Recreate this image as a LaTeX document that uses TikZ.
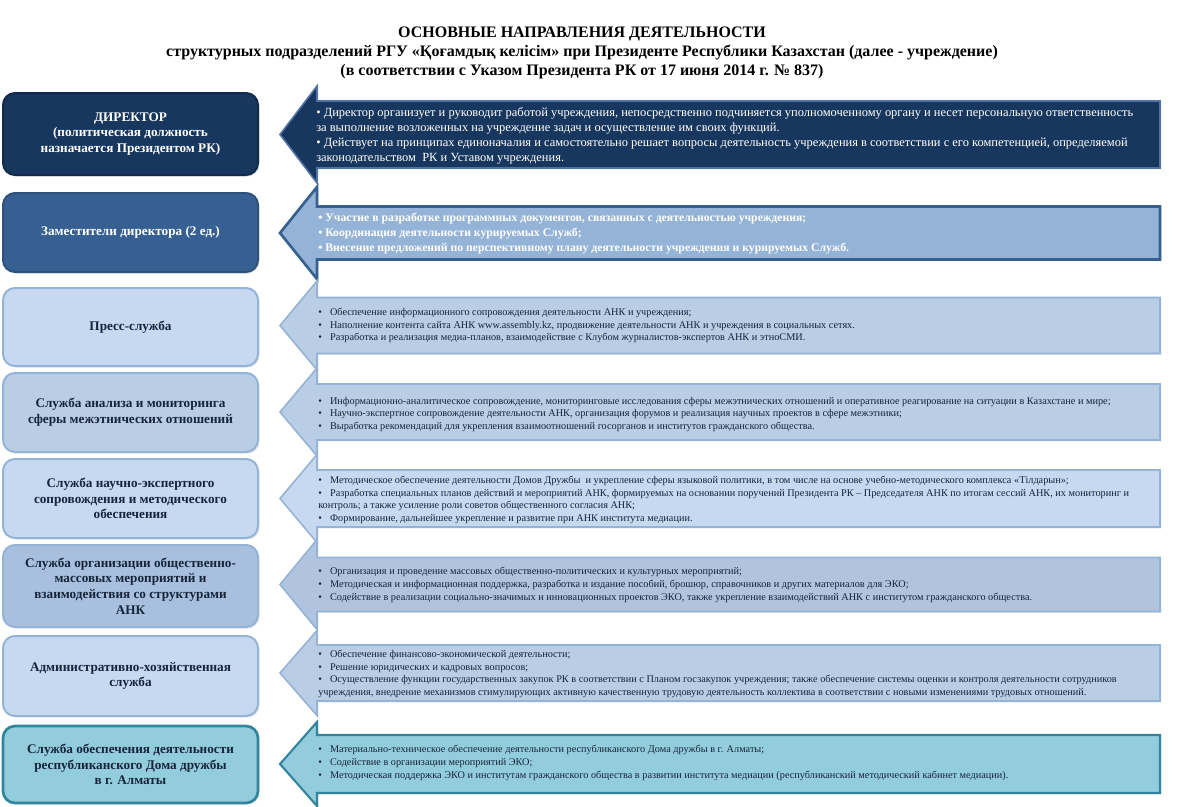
\documentclass[tikz,border=0pt]{standalone}
\usepackage{fontspec}
\setmainfont{Liberation Serif}
\usepackage{xcolor}
\usetikzlibrary{shadows}
\definecolor{navy}{HTML}{17375E}
\definecolor{navyedge}{HTML}{4F73A6}
\definecolor{midblue}{HTML}{376092}
\definecolor{midfill}{HTML}{95B3D7}
\definecolor{paleblue}{HTML}{C6D9F1}
\definecolor{lightblue}{HTML}{B9CDE5}
\definecolor{greyblue}{HTML}{A8C0DE}
\definecolor{greyarrow}{HTML}{B0C4DF}
\definecolor{paleedge}{HTML}{95B3D7}
\definecolor{tealfill}{HTML}{93CDDD}
\definecolor{tealedge}{HTML}{31859C}
\definecolor{inktext}{HTML}{15243A}
\tikzset{
  ttl/.style={align=center,font=\bfseries\fontsize{12}{14.25}\selectfont,inner sep=0pt},
  box/.style={rounded corners=9pt,minimum width=191.25pt,align=center,inner sep=0pt,
    font=\bfseries\fontsize{9.9}{11.8}\selectfont,text=inktext,line width=1.5pt,
    drop shadow={opacity=0.18,shadow xshift=1.2pt,shadow yshift=-1.2pt}},
  desc/.style={anchor=west,align=left,inner sep=0pt,text=inktext,
    font=\fontsize{7.7}{9.5}\selectfont},
  blk/.style={line width=1.2pt,line join=miter,
    drop shadow={opacity=0.15,shadow xshift=1.2pt,shadow yshift=-1.2pt}}
}
% block arrow pointing left: [style]{y centre}{half shaft}{half head}
\newcommand{\blkarrow}[4][]{\draw[blk,#1] (280,#2) -- (317,#2-#4) -- (317,#2-#3)
  -- (1160,#2-#3) -- (1160,#2+#3) -- (317,#2+#3) -- (317,#2+#4) -- cycle;}
\newcommand{\itm}{\textbullet\hspace{0.8em}}

\begin{document}
\begin{tikzpicture}[x=0.75pt,y=-0.75pt]
\useasboundingbox (0,0) rectangle (1200,807);
\node[ttl] (title) at (582,53) {ОСНОВНЫЕ НАПРАВЛЕНИЯ ДЕЯТЕЛЬНОСТИ\\
  структурных подразделений РГУ «Қоғамдық келісім» при Президенте Республики Казахстан (далее - учреждение)\\
  (в соответствии с Указом Президента РК от 17 июня 2014 г. № 837)};

% director
\blkarrow[fill=navy,draw=navyedge]{134.5}{33.5}{48.5}
\node[box,fill=navy,draw=navy!80!black,text=white,minimum height=61.5pt] (dir) at (130.5,134) {ДИРЕКТОР\\(политическая должность\\назначается Президентом РК)};
\node[desc,text=white,font=\fontsize{9.35}{11.25}\selectfont] (dirtxt) at (316,135.5) {\textbullet\ Директор организует и руководит работой учреждения, непосредственно подчиняется уполномоченному органу и несет персональную ответственность\\
за выполнение возложенных на учреждение задач и осуществление им своих функций.\\
\textbullet\ Действует на принципах единоначалия и самостоятельно решает вопросы деятельность учреждения в соответствии с его компетенцией, определяемой\\
законодательством~ РК и Уставом учреждения.};

% deputies
\blkarrow[fill=midfill,draw=midblue,line width=2pt]{233}{26.5}{46}
\node[box,fill=midblue,draw=midblue!85!black,text=white,minimum height=59.25pt] (dep) at (130.5,232.5) {Заместители директора (2 ед.)};
\node[desc,text=white,font=\bfseries\fontsize{8.8}{11.25}\selectfont] (deptxt) at (318,234) {\textbullet\ Участие в разработке программных документов, связанных с деятельностью учреждения;\\
\textbullet\ Координация деятельности курируемых Служб;\\
\textbullet\ Внесение предложений по перспективному плану деятельности учреждения и курируемых Служб.};

% press
\blkarrow[fill=lightblue,draw=paleedge]{325.5}{28}{44.5}
\node[box,fill=paleblue,draw=paleedge,minimum height=58.5pt] (press) at (130.5,327) {Пресс-служба};
\node[desc] (presstxt) at (318,325.5) {\itm Обеспечение информационного сопровождения деятельности АНК и учреждения;\\
\itm Наполнение контента сайта АНК www.assembly.kz, продвижение деятельности АНК и учреждения в социальных сетях.\\
\itm Разработка и реализация медиа-планов, взаимодействие с Клубом журналистов-экспертов АНК и этноСМИ.};

% analysis
\blkarrow[fill=lightblue,draw=paleedge]{412}{28}{44}
\node[box,fill=lightblue,draw=paleedge,minimum height=59.25pt] (anl) at (130.5,412.5) {Служба анализа и мониторинга\\сферы межэтнических отношений};
\node[desc] (anltxt) at (318,414.5) {\itm Информационно-аналитическое сопровождение, мониторинговые исследования сферы межэтнических отношений и оперативное реагирование на ситуации в Казахстане и мире;\\
\itm Научно-экспертное сопровождение деятельности АНК, организация форумов и реализация научных проектов в сфере межэтники;\\
\itm Выработка рекомендаций для укрепления взаимоотношений госорганов и институтов гражданского общества.};

% expert support
\blkarrow[fill=paleblue,draw=paleedge]{498.5}{28.5}{44}
\node[box,fill=paleblue,draw=paleedge,minimum height=59.25pt] (exp) at (130.5,498.5) {Служба научно-экспертного\\сопровождения и методического\\обеспечения};
\node[desc] (exptxt) at (318,500) {\itm Методическое обеспечение деятельности Домов Дружбы~ и укрепление сферы языковой политики, в том числе на основе учебно-методического комплекса «Тілдарын»;\\
\itm Разработка специальных планов действий и мероприятий АНК, формируемых на основании поручений Президента РК – Председателя АНК по итогам сессий АНК, их мониторинг и\\
контроль; а также усиление роли советов общественного согласия АНК;\\
\itm Формирование, дальнейшее укрепление и развитие при АНК института медиации.};

% public events
\blkarrow[fill=greyarrow,draw=paleedge]{584.5}{27}{45}
\node[box,fill=greyblue,draw=paleedge,minimum height=61.5pt] (evt) at (130.5,586) {Служба организации общественно-\\массовых мероприятий и\\взаимодействия со структурами\\АНК};
\node[desc] (evttxt) at (318,585) {\itm Организация и проведение массовых общественно-политических и культурных мероприятий;\\
\itm Методическая и информационная поддержка, разработка и издание пособий, брошюр, справочников и других материалов для ЭКО;\\
\itm Содействие в реализации социально-значимых и инновационных проектов ЭКО, также укрепление взаимодействий АНК с институтом гражданского общества.};

% administration
\blkarrow[fill=lightblue,draw=paleedge]{673}{28}{42.5}
\node[box,fill=paleblue,draw=paleedge,minimum height=60pt] (adm) at (130.5,676) {Административно-хозяйственная\\служба};
\node[desc] (admtxt) at (318,674) {\itm Обеспечение финансово-экономической деятельности;\\
\itm Решение юридических и кадровых вопросов;\\
\itm Осуществление функции государственных закупок РК в соответствии с Планом госзакупок учреждения; также обеспечение системы оценки и контроля деятельности сотрудников\\
учреждения, внедрение механизмов стимулирующих активную качественную трудовую деятельность коллектива в соответствии с новыми изменениями трудовых отношений.};

% house of friendship
\blkarrow[fill=tealfill,draw=tealedge,line width=1.6pt]{764}{29}{42}
\node[box,fill=tealfill,draw=tealedge,line width=2pt,minimum height=57.75pt] (alm) at (130.5,764.5) {Служба обеспечения деятельности\\республиканского Дома дружбы\\в г. Алматы};
\node[desc] (almtxt) at (318,763) {\itm Материально-техническое обеспечение деятельности республиканского Дома дружбы в г. Алматы;\\
\itm Содействие в организации мероприятий ЭКО;\\
\itm Методическая поддержка ЭКО и институтам гражданского общества в развитии института медиации (республиканский методический кабинет медиации).};
\end{tikzpicture}
\end{document}
